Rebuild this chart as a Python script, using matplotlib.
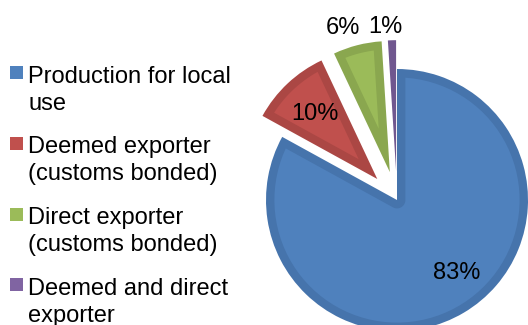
import math
import matplotlib.pyplot as plt
from matplotlib.patches import Polygon, Rectangle

plt.rcParams["font.family"] = ["Liberation Sans", "DejaVu Sans"]

# данные
categories = [
    "Production for local\nuse",
    "Deemed exporter\n(customs bonded)",
    "Direct exporter\n(customs bonded)",
    "Deemed and direct\nexporter",
]
shares = [83, 10, 6, 1]
fills = ["#4F81BD", "#C0504D", "#9BBB59", "#8064A2"]
edges = ["#4674AC", "#AB4744", "#8AA74F", "#70578F"]
explode = [0, 0.22, 0.22, 0.22]
label_dist = [0.72, 0.69, 1.155, 1.10]
label_shift = [8.5, 0.6, 3.7, 2.5]  # градусы от середины сектора


def unit(deg):
    a = math.radians(deg)
    return math.cos(a), math.sin(a)


def arc(cx, cy, rad, a_from, a_to, n=80):
    pts = []
    for k in range(n + 1):
        ux, uy = unit(a_from + (a_to - a_from) * k / n)
        pts.append((cx + rad * ux, cy + rad * uy))
    return pts


def inset_wedge(cx, cy, r, t1, t2, d):
    """Сектор, сжатый внутрь на d (внутренняя часть без рамки)"""
    span = t2 - t1
    rr = r - d
    tt = math.sqrt(rr ** 2 - d ** 2)
    u1, u2 = unit(t1), unit(t2)
    n1, n2 = unit(t1 + 90), unit(t2 - 90)
    p1 = (cx + d * n1[0] + tt * u1[0], cy + d * n1[1] + tt * u1[1])
    p2 = (cx + d * n2[0] + tt * u2[0], cy + d * n2[1] + tt * u2[1])
    a1 = math.degrees(math.atan2(p1[1] - cy, p1[0] - cx))
    a2 = math.degrees(math.atan2(p2[1] - cy, p2[0] - cx))
    while a2 <= a1:
        a2 += 360
    if span < 180:
        s = d / math.sin(math.radians(span / 2))
        if s >= rr:
            return None
        bx, by = unit((t1 + t2) / 2)
        return [(cx + s * bx, cy + s * by)] + arc(cx, cy, rr, a1, a2)
    small = arc(cx, cy, d, t2 - 90, t1 + 90 - 360 if t1 + 90 > t2 - 90 else t1 + 90, 40)
    return [p2] + small + arc(cx, cy, rr, a1, a2)


W, H = 528, 325
fig = plt.figure(figsize=(W / 100, H / 100), dpi=100)
ax = fig.add_axes([0, 0, 1, 1])

# внешний слой — цвет рамки
wedges, _ = ax.pie(
    shares,
    colors=edges,
    explode=explode,
    startangle=90,
    counterclock=False,
    radius=1,
    wedgeprops={"linewidth": 0},
)

# внутренняя заливка
band = 0.064
for w, fc in zip(wedges, fills):
    pts = inset_wedge(w.center[0], w.center[1], w.r, w.theta1, w.theta2, band)
    if pts:
        ax.add_patch(Polygon(pts, closed=True, facecolor=fc, edgecolor="none"))

# подписи процентов
for w, val, d, sh in zip(wedges, shares, label_dist, label_shift):
    ang = math.radians((w.theta1 + w.theta2) / 2 + sh)
    cx, cy = w.center
    ax.text(cx + d * math.cos(ang), cy + d * math.sin(ang), f"{val}%",
            ha="center", va="center", fontsize=17, color="black")

# масштаб: радиус = 131 px, центр в (397, 200) от верхнего левого угла
r_px = 131
ax.set_xlim(-397 / r_px, (W - 397) / r_px)
ax.set_ylim(-(H - 200) / r_px, 200 / r_px)
ax.set_aspect("auto")
ax.axis("off")

# легенда вручную: квадрат на уровне первой строки
pitch = 70.7
for i, (label, fc) in enumerate(zip(categories, fills)):
    base = 82.3 + i * pitch
    fig.patches.append(Rectangle(
        (10 / W, 1 - (base - 3) / H), 13 / W, 13 / H,
        transform=fig.transFigure, facecolor=fc, edgecolor="none"))
    fig.text(28 / W, 1 - (base - 16.5) / H, label, ha="left", va="top",
             fontsize=17, linespacing=1.28, color="black")

fig.savefig("out.png", dpi=100)
